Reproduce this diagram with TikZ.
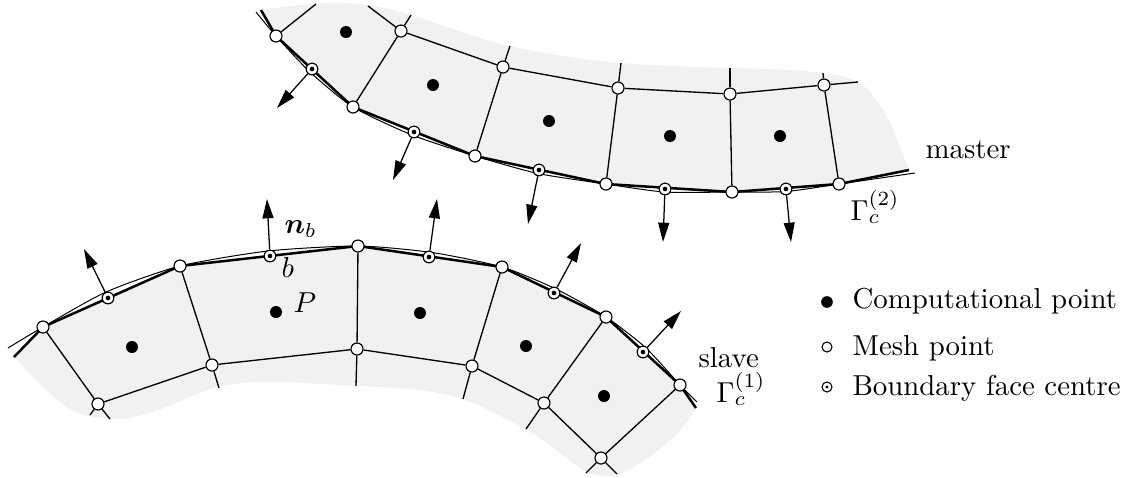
\documentclass[tikz,border=0pt]{standalone}
\usepackage{amsmath}
\usetikzlibrary{arrows.meta}
\pgfdeclarelayer{fillayer}
\pgfdeclarelayer{linelayer}
\pgfsetlayers{fillayer,linelayer,main}
\definecolor{meshgrey}{RGB}{241,241,241}
\tikzset{
  meshline/.style={line width=0.4pt,black},
  thickline/.style={line width=0.75pt,black,line join=round},
  thinline/.style={line width=0.3pt,black},
  greyarea/.style={fill=meshgrey,draw=none},
  arrowed/.style={line width=0.38pt,black,-{Triangle[length=5.8pt,width=3.3pt]},shorten >=0pt},
  comppt/.style={circle,fill=black,draw=none,inner sep=0pt,minimum size=3.6pt},
  meshpt/.style={circle,fill=white,draw=black,line width=0.35pt,inner sep=0pt,minimum size=3.6pt},
  facept/.style={circle,fill=white,draw=black,line width=0.35pt,inner sep=0pt,minimum size=3.5pt,
    path picture={\fill[black] (path picture bounding box.center) circle (0.7pt);}},
  legcomp/.style={circle,fill=black,inner sep=0pt,minimum size=3.5pt},
  legmesh/.style={circle,fill=white,draw=black,line width=0.33pt,inner sep=0pt,minimum size=3pt},
  legface/.style={circle,fill=white,draw=black,line width=0.33pt,inner sep=0pt,minimum size=3pt,
    path picture={\fill[black] (path picture bounding box.center) circle (0.5pt);}},
  txt/.style={inner sep=0pt,anchor=base west,scale=0.865},
}
\begin{document}
\begin{tikzpicture}[x=0.3pt,y=-0.3pt]
\useasboundingbox (0,0) rectangle (1131,477);

% ---------- master ----------
\node[meshpt] (m1) at (276,36) {};
\node[meshpt] (m2) at (353,107) {};
\node[meshpt] (m3) at (475,156) {};
\node[meshpt] (m4) at (606,184) {};
\node[meshpt] (m5) at (732,192) {};
\node[meshpt] (m6) at (839,184) {};
\node[meshpt] (t1) at (401,31) {};
\node[meshpt] (t2) at (503,67) {};
\node[meshpt] (t3) at (618,88) {};
\node[meshpt] (t4) at (730,94) {};
\node[meshpt] (t5) at (824,85) {};
\node[facept] (f1) at (312,69) {};
\node[facept] (f2) at (414,132) {};
\node[facept] (f3) at (539,170) {};
\node[facept] (f4) at (665,189) {};
\node[facept] (f5) at (786,189) {};
\node[comppt] (c1) at (346,32) {};
\node[comppt] (c2) at (433,85) {};
\node[comppt] (c3) at (549,121) {};
\node[comppt] (c4) at (670,136) {};
\node[comppt] (c5) at (780,136) {};

\coordinate (mThickA) at (261,10);
\coordinate (mThickB) at (909,170);
\coordinate (mThinA) at (256,12);
\coordinate (mThinB) at (915,173);
\coordinate (ma1) at (277,108);
\coordinate (ma2) at (393,180);
\coordinate (ma3) at (528,224);
\coordinate (ma4) at (663,242);
\coordinate (ma5) at (791,242);
\coordinate (me1) at (316,4);
\coordinate (me2) at (368,6);
\coordinate (me3) at (411,15);
\coordinate (me4) at (510,46);
\coordinate (me5) at (621,63);
\coordinate (me6) at (730,68);
\coordinate (me7) at (823,73);
\coordinate (me8) at (858,82);

% ---------- slave ----------
\node[meshpt] (s1) at (43,327) {};
\node[meshpt] (s2) at (180,266) {};
\node[meshpt] (s3) at (358,246) {};
\node[meshpt] (s4) at (502,267) {};
\node[meshpt] (s5) at (606,317) {};
\node[meshpt] (s6) at (680,385) {};
\node[meshpt] (b1) at (98,404) {};
\node[meshpt] (b2) at (212,365) {};
\node[meshpt] (b3) at (357,349) {};
\node[meshpt] (b4) at (472,366) {};
\node[meshpt] (b5) at (544,403) {};
\node[meshpt] (b6) at (601,458) {};
\node[facept] (g1) at (108,298) {};
\node[facept] (g2) at (270,256) {};
\node[facept] (g3) at (429,257) {};
\node[facept] (g4) at (554,293) {};
\node[facept] (g5) at (643,352) {};
\node[comppt] (d1) at (132,347) {};
\node[comppt] (d2) at (276,312) {};
\node[comppt] (d3) at (420,313) {};
\node[comppt] (d4) at (526,346) {};
\node[comppt] (d5) at (604,396) {};

\coordinate (sThickA) at (14,357);
\coordinate (sThickB) at (696,408);
\coordinate (sThinA) at (8,348);
\coordinate (sThinB) at (697,402);
\coordinate (sa1) at (84,249);
\coordinate (sa2) at (267,199);
\coordinate (sa3) at (437,199);
\coordinate (sa4) at (581,243);
\coordinate (sa5) at (681,311);
\coordinate (se1) at (90,415);
\coordinate (se2) at (110,419);
\coordinate (se3) at (219,388);
\coordinate (se4) at (356,386);
\coordinate (se5) at (463,399);
\coordinate (se6) at (526,429);
\coordinate (se7) at (586,473);
\coordinate (se8) at (617,474);

% ---------- grey areas ----------
\begin{pgfonlayer}{fillayer}
\path[greyarea] (mThickA)
  .. controls (285,7) and (310,2) .. (343,3)
  .. controls (370,4) and (395,10) .. (411,15)
  .. controls (440,24) and (475,38) .. (510,46)
  .. controls (545,54) and (585,60) .. (621,63)
  .. controls (660,66) and (700,67) .. (730,68)
  .. controls (770,69) and (800,70) .. (823,73)
  .. controls (840,75) and (850,78) .. (858,82)
  .. controls (872,90) and (882,108) .. (890,123)
  .. controls (897,138) and (903,155) .. (mThickB)
  -- (m6.center) -- (m5.center) -- (m4.center) -- (m3.center) -- (m2.center) -- (m1.center) -- cycle;
\path[greyarea] (sThickA)
  .. controls (25,368) and (45,392) .. (67,407)
  .. controls (80,415) and (95,419) .. (120,419)
  .. controls (150,417) and (180,400) .. (207,390)
  .. controls (230,383) and (250,382) .. (267,382)
  .. controls (300,382) and (330,385) .. (356,386)
  .. controls (385,387) and (420,389) .. (433,392)
  .. controls (470,398) and (495,413) .. (526,429)
  .. controls (545,440) and (565,458) .. (586,472)
  .. controls (595,476) and (610,478) .. (620,474)
  .. controls (640,466) and (680,438) .. (sThickB)
  -- (s6.center) -- (s5.center) -- (s4.center) -- (s3.center) -- (s2.center) -- (s1.center) -- cycle;
\end{pgfonlayer}

% ---------- lines ----------
\begin{pgfonlayer}{linelayer}
\draw[thickline] (mThickA) -- (m1.center) -- (m2.center) -- (m3.center) -- (m4.center) -- (m5.center) -- (m6.center) -- (mThickB);
\draw[thinline] plot[smooth,tension=0.4] coordinates {(mThinA) (m1.center) (310,72) (m2.center) (412,135) (m3.center) (538,173.5) (m4.center) (665,192) (m5.center) (786,191.5) (m6.center) (mThinB)};
\draw[thickline] (sThickA) -- (s1.center) -- (s2.center) -- (s3.center) -- (s4.center) -- (s5.center) -- (s6.center) -- (sThickB);
\draw[thinline] plot[smooth,tension=0.4] coordinates {(sThinA) (s1.center) (106,292) (s2.center) (268,251) (s3.center) (432,252.5) (s4.center) (556,289) (s5.center) (646,348) (s6.center) (sThinB)};

\draw[meshline] (m1) -- (me1);
\draw[meshline] (t1) -- (me2);
\draw[meshline] (t1) -- (me3);
\draw[meshline] (t2) -- (me4);
\draw[meshline] (t3) -- (me5);
\draw[meshline] (t4) -- (me6);
\draw[meshline] (t5) -- (me7);
\draw[meshline] (t5) -- (me8);
\draw[meshline] (t1) -- (t2);
\draw[meshline] (t2) -- (t3);
\draw[meshline] (t3) -- (t4);
\draw[meshline] (t4) -- (t5);
\draw[meshline] (m2) -- (t1);
\draw[meshline] (m3) -- (t2);
\draw[meshline] (m4) -- (t3);
\draw[meshline] (m5) -- (t4);
\draw[meshline] (m6) -- (t5);

\draw[meshline] (b1) -- (b2);
\draw[meshline] (b2) -- (b3);
\draw[meshline] (b3) -- (b4);
\draw[meshline] (b4) -- (b5);
\draw[meshline] (b5) -- (b6);
\draw[meshline] (s1) -- (b1);
\draw[meshline] (s2) -- (b2);
\draw[meshline] (s3) -- (b3);
\draw[meshline] (s4) -- (b4);
\draw[meshline] (s5) -- (b5);
\draw[meshline] (s6) -- (b6);
\draw[meshline] (b1) -- (se1);
\draw[meshline] (b1) -- (se2);
\draw[meshline] (b2) -- (se3);
\draw[meshline] (b3) -- (se4);
\draw[meshline] (b4) -- (se5);
\draw[meshline] (b5) -- (se6);
\draw[meshline] (b6) -- (se7);
\draw[meshline] (b6) -- (se8);

\foreach \a/\b in {f1/ma1,f2/ma2,f3/ma3,f4/ma4,f5/ma5,g1/sa1,g2/sa2,g3/sa3,g4/sa4,g5/sa5}
  \draw[arrowed] (\a) -- (\b);
\end{pgfonlayer}

% ---------- labels ----------
\node[txt] (lmaster) at (925,158) {master};
\node[txt] (lgamma2) at (850,220) {$\Gamma_c^{(2)}$};
\node[txt] (lslave) at (698,367) {slave};
\node[txt] (lgamma1) at (716,402) {$\Gamma_c^{(1)}$};
\node[txt] (ln) at (284,233) {$\boldsymbol{n}_b$};
\node[txt] (lb) at (281,277) {$b$};
\node[txt] (lP) at (293,312) {$P$};

% ---------- legend ----------
\node[legcomp] (k1) at (827,302) {};
\node[legmesh] (k2) at (827,347) {};
\node[legface] (k3) at (827,387) {};
\node[txt] (k1t) at (852,308) {Computational point};
\node[txt] (k2t) at (852,355) {Mesh point};
\node[txt] (k3t) at (852,395) {Boundary face centre};
\end{tikzpicture}
\end{document}
